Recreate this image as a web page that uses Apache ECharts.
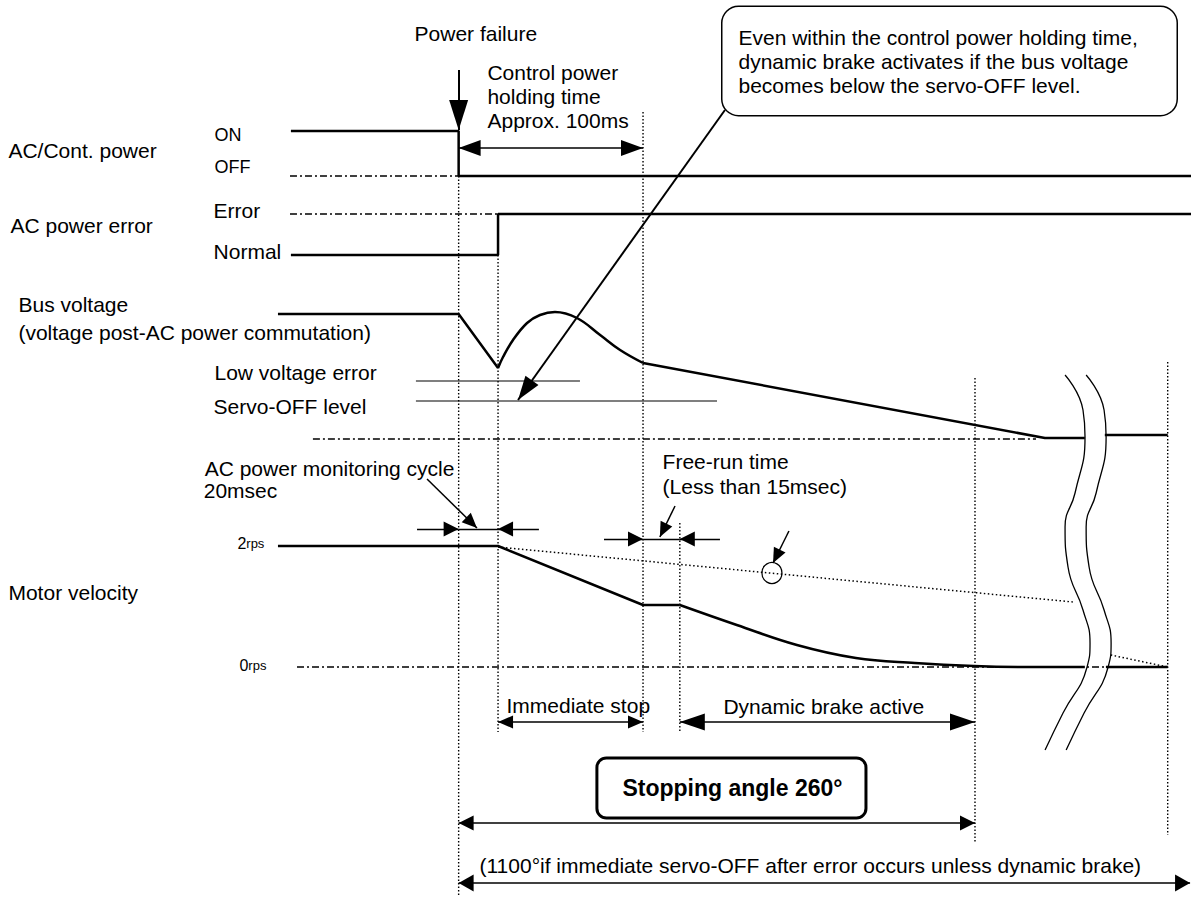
<!DOCTYPE html>
<html>
<head>
<meta charset="utf-8">
<title>Power failure timing</title>
<script src="https://cdn.jsdelivr.net/npm/echarts@6/dist/echarts.min.js"></script>
<style>
  html, body { margin: 0; padding: 0; background: #fff; }
  #main { width: 1191px; height: 904px; }
</style>
</head>
<body>
<div id="main"></div>
<script>
// x = time in ms (0 = power failure), y = row level of the drawing (0 at top)
const acPowerT = [-90.7, 0, 0, 396];
const acPowerY = [131, 131, 176, 176];
const acErrorT = [-90.7, 21.3, 21.3, 396];
const acErrorY = [255, 255, 214, 214];

const busT = [-97.7, 0, 21.3];
const busY = [314, 314, 368];
const busArcT = [21.3, 24.0, 29.4, 37.0, 44.0, 52.1, 64.0, 76.5, 87.3, 99.7];
const busArcY = [368, 357, 340, 323, 315, 312, 318, 335, 350, 363];
const busTailT = [99.7, 317.0, 338.6];
const busTailY = [363, 438, 438];
const busEndT = [349.4, 383.4];
const busEndY = [435, 435];

const velT = [-97.7, 21.3, 99.7, 119.6];
const velY = [546, 546, 605, 605];
const velDecayT = [119.6, 150.4, 182.9, 214.8, 246.7, 278.6, 308.4, 338.6];
const velDecayY = [605, 625, 645, 658, 663, 666, 667, 667];
const velEndT = [350.0, 383.4];
const velEndY = [667, 667];
const projT = [21.3, 332.1];
const projY = [547, 602];
const projEndT = [352.6, 383.4];
const projEndY = [655, 667];

// dash-dot reference levels: OFF, Error, bus zero, 0rps
const refFromT = [-91.2, -91.2, -78.8, -87.4];
const refToT = [0, 21.3, 312.2, 383.4];
const refY = [176, 214, 439, 667];

// low voltage error / servo-OFF thresholds
const thrFromT = [-23.1, -23.1];
const thrToT = [65.6, 139.7];
const thrY = [381, 401];

// dotted timing markers
const markT = [0, 21.3, 99.7, 119.6, 279.2, 383.4];
const markTop = [176, 255, 112, 523, 378, 362];
const markBottom = [897, 732, 732, 732, 843, 835];

// time-axis break
const breakY = [375, 410, 437, 493, 527, 567, 610, 643, 667, 713, 750];
const breakLeftT = [327.9, 337.6, 338.7, 333.3, 327.9, 329.5, 337.6, 341.4, 339.8, 326.8, 317.1];
const breakRightT = [339.3, 349.0, 350.1, 344.7, 339.3, 340.9, 349.0, 352.8, 351.2, 338.2, 328.5];

// arrows: [t1, y1, t2, y2, heads, headLen, headWidth, curveness, lineWidth]
const arrows = [
  [0, 70, 0, 130, 'end', 30, 19, 0, 2],
  [0, 148, 99.7, 148, 'both', 22, 16, 0, 1.5],
  [144.0, 110, 32.1, 400, 'end', 24, 16, 0, 2],
  [-22.5, 529, 0, 529, 'end', 15, 15, 0, 1.3],
  [0, 529, 21.3, 529, 'none', 0, 0, 0, 1.3],
  [43.4, 529, 21.3, 529, 'end', 15, 15, 0, 1.3],
  [-17.1, 479, 9.9, 528, 'end', 15, 13, 0.2, 1.5],
  [78.6, 539, 99.7, 539, 'end', 15, 15, 0, 1.3],
  [99.7, 539, 119.6, 539, 'none', 0, 0, 0, 1.3],
  [141.3, 539, 119.6, 539, 'end', 15, 15, 0, 1.3],
  [117.0, 506, 108.8, 537, 'end', 15, 13, -0.3, 1.5],
  [178.6, 531, 170.0, 563, 'end', 15, 13, -0.3, 1.5],
  [21.3, 722, 99.7, 722, 'both', 15, 13, 0, 1.5],
  [119.6, 722, 279.2, 722, 'both', 25, 17, 0, 1.5],
  [0, 823, 279.2, 823, 'both', 15, 15, 0, 1.5],
  [0, 883, 395.5, 883, 'both', 15, 17, 0, 1.5]
];

// text labels (left edge time, row level)
const labelText = ['Power failure', 'Control power\nholding time\nApprox. 100ms', 'AC/Cont. power',
  'AC power error', 'Error', 'Normal', 'Bus voltage', '(voltage post-AC power commutation)',
  'Low voltage error', 'Servo-OFF level', 'AC power monitoring cycle', '20msec',
  'Free-run time\n(Less than 15msec)', 'Motor velocity', 'Immediate stop', 'Dynamic brake active',
  '(1100°if immediate servo-OFF after error occurs unless dynamic brake)'];
const labelT = [-24.1, 15.3, -243.7, -242.6, -132.8, -132.8, -238.3, -238.3,
  -132.3, -132.8, -137.6, -138.1, 110.0, -243.7, 25.6, 142.9, 11.0];
const labelY = [33, 96, 150, 225, 210, 251, 304, 332, 372, 406, 468, 490, 474, 592, 705, 706, 865];
const labelLineH = [24, 24, 24, 24, 24, 24, 24, 24, 24, 24, 21, 21, 25, 24, 24, 24, 24];

const stateText = ['ON', 'OFF'];
const stateT = [-132.3, -132.3];
const stateY = [135, 167];

const speedNum = ['2', '0'];
const speedT = [-119.9, -118.8];
const speedY = [543, 665];

const noteText = 'Even within the control power holding time,\ndynamic brake activates if the bus voltage\nbecomes below the servo-OFF level.';
const noteT = 142.4, noteY = 61;
const stopText = 'Stopping angle 260°';
const stopT = 75.3, stopY = 788;
const circleT = 169.4, circleY = 573;

const FONT = "'Liberation Sans', Arial, sans-serif";
const ARROW = 'path://M0,0M0,10L-5,20L5,20Z';

function pts(ts, ys) {
  return ts.map((t, i) => [t, ys[i]]);
}

function line(data, width, type, smooth) {
  return {
    type: 'line',
    data: data,
    symbol: 'none',
    smooth: smooth || false,
    silent: true,
    animation: false,
    z: 2,
    lineStyle: { color: '#000', width: width, type: type || 'solid', cap: 'butt' }
  };
}

let series = [];

// signals
series.push(line(pts(acPowerT, acPowerY), 2.5));
series.push(line(pts(acErrorT, acErrorY), 2.5));
series.push(line(pts(busT, busY), 2.5));
series.push(line(pts(busArcT, busArcY), 2.5, 'solid', 0.4));
series.push(line(pts(busTailT, busTailY), 2.5));
series.push(line(pts(busEndT, busEndY), 2.5));
series.push(line(pts(velT, velY), 2.5));
series.push(line(pts(velDecayT, velDecayY), 2.5, 'solid', 0.4));
series.push(line(pts(velEndT, velEndY), 2.5));
series.push(line(pts(projT, projY), 1.5, [1.5, 2.5]));
series.push(line(pts(projEndT, projEndY), 1.5, [1.5, 2.5]));

refY.forEach((y, i) => series.push(line([[refFromT[i], y], [refToT[i], y]], 1.4, [7, 3, 2, 3])));
thrY.forEach((y, i) => series.push(line([[thrFromT[i], y], [thrToT[i], y]], 1.2)));
markT.forEach((t, i) => series.push(line([[t, markTop[i]], [t, markBottom[i]]], 1.4, [1.5, 2])));

series.push(line(pts(breakLeftT, breakY), 1.3, 'solid', 0.5));
series.push(line(pts(breakRightT, breakY), 1.3, 'solid', 0.5));

// arrows as mark lines
series.push({
  type: 'line',
  data: [],
  silent: true,
  animation: false,
  z: 3,
  markLine: {
    silent: true,
    animation: false,
    symbol: ['none', 'none'],
    label: { show: false },
    emphasis: { disabled: true },
    data: arrows.map(a => {
      const size = [a[6], a[5] * 2];
      return [
        {
          coord: [a[0], a[1]],
          symbol: a[4] === 'both' ? ARROW : 'none',
          symbolSize: size,
          lineStyle: { color: '#000', width: a[8], type: 'solid', curveness: a[7] }
        },
        {
          coord: [a[2], a[3]],
          symbol: a[4] === 'none' ? 'none' : ARROW,
          symbolSize: size
        }
      ];
    })
  }
});

// circle marker on the projected velocity line
series.push({
  type: 'scatter',
  data: [[circleT, circleY]],
  symbol: 'circle',
  symbolSize: [20, 21],
  silent: true,
  animation: false,
  z: 4,
  itemStyle: { color: 'rgba(0,0,0,0)', borderColor: '#000', borderWidth: 1.3, opacity: 1 }
});

// texts
const baseLabel = {
  show: true, position: 'right', distance: 0, color: '#000',
  fontFamily: FONT, fontSize: 21, lineHeight: 24
};
let textItems = labelText.map((s, i) => ({
  value: [labelT[i], labelY[i]],
  label: Object.assign({}, baseLabel, { formatter: s, lineHeight: labelLineH[i] })
}));
stateText.forEach((s, i) => textItems.push({
  value: [stateT[i], stateY[i]],
  label: Object.assign({}, baseLabel, { formatter: s, fontSize: 18 })
}));
speedNum.forEach((s, i) => textItems.push({
  value: [speedT[i], speedY[i]],
  label: Object.assign({}, baseLabel, {
    formatter: '{a|' + s + '}{b|rps}',
    rich: {
      a: { fontSize: 16, fontFamily: FONT, color: '#000' },
      b: { fontSize: 13, fontFamily: FONT, color: '#000' }
    }
  })
}));
textItems.push({
  value: [noteT, noteY],
  label: Object.assign({}, baseLabel, {
    formatter: noteText, backgroundColor: '#fff', borderColor: '#000', borderWidth: 1.5,
    borderRadius: 16, padding: [18, 16, 18, 16], width: 422
  })
});
textItems.push({
  value: [stopT, stopY],
  label: Object.assign({}, baseLabel, {
    formatter: stopText, fontWeight: 'bold', fontSize: 23, lineHeight: 27,
    backgroundColor: '#fff', borderColor: '#000', borderWidth: 3,
    borderRadius: 8, padding: [15, 22, 15, 24]
  })
});

series.push({
  type: 'scatter',
  data: textItems,
  symbolSize: 1,
  silent: true,
  animation: false,
  z: 10,
  itemStyle: { color: 'rgba(0,0,0,0)', opacity: 1 }
});

const chart = echarts.init(document.getElementById('main'), null, { renderer: 'svg' });
chart.setOption({
  backgroundColor: '#fff',
  animation: false,
  grid: { left: 0, right: 0, top: 0, bottom: 0, containLabel: false, outerBoundsMode: 'none' },
  xAxis: { type: 'value', min: -248, max: 396, show: false },
  yAxis: { type: 'value', min: 0, max: 904, inverse: true, show: false },
  series: series
});
</script>
</body>
</html>
